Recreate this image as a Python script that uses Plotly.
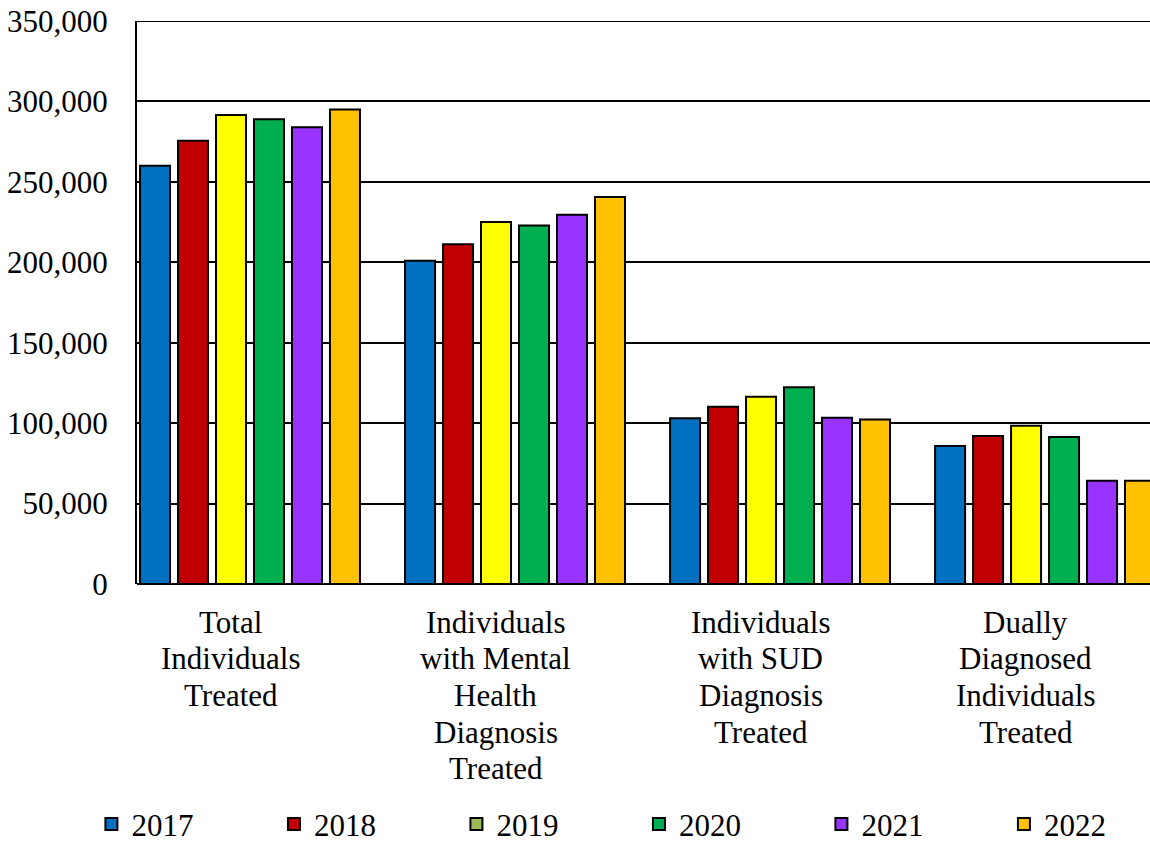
import plotly.graph_objects as go

# Categories shown along the x axis (one entry per text line)
categories = [
    ["Total", "Individuals", "Treated"],
    ["Individuals", "with Mental", "Health", "Diagnosis", "Treated"],
    ["Individuals", "with SUD", "Diagnosis", "Treated"],
    ["Dually", "Diagnosed", "Individuals", "Treated"],
]

years = ["2017", "2018", "2019", "2020", "2021", "2022"]

# Individuals treated per category, one list per year
v2017 = [260000, 201000, 103000, 85800]
v2018 = [275500, 211200, 110200, 92000]
v2019 = [291600, 225000, 116400, 98400]
v2020 = [288900, 222800, 122300, 91400]
v2021 = [283900, 229600, 103400, 64200]
v2022 = [295000, 240600, 102200, 64200]
series = [v2017, v2018, v2019, v2020, v2021, v2022]

bar_colors = ["#0070C0", "#C00000", "#FFFF00", "#00B050", "#9933FF", "#FFC000"]
legend_colors = ["#0070C0", "#C00000", "#9BBB59", "#00B050", "#9933FF", "#FFC000"]

y_ticks = [0, 50000, 100000, 150000, 200000, 250000, 300000, 350000]
y_tick_text = ["0", "50,000", "100,000", "150,000", "200,000", "250,000", "300,000", "350,000"]

FONT = "Liberation Serif"
SIZE = 31
x_pos = list(range(len(categories)))

fig = go.Figure()

for name, vals, col in zip(years, series, bar_colors):
    fig.add_trace(go.Bar(
        x=x_pos, y=vals, name=name,
        marker=dict(color=col, line=dict(color="black", width=2)),
        showlegend=False,
    ))

# Legend entries on a hidden overlay axis pair
for name, col in zip(years, legend_colors):
    fig.add_trace(go.Bar(
        x=[None], y=[None], name=name, xaxis="x2", yaxis="y2",
        marker=dict(color=col, line=dict(color="black", width=2)),
        showlegend=True,
    ))

# Category labels, one annotation per line, slightly left of each cluster centre
label_offset = -0.072
for pos, lines in zip(x_pos, categories):
    for k, line in enumerate(lines):
        fig.add_annotation(
            x=pos + label_offset, xref="x", y=0, yref="paper",
            yshift=-(38 + 36.7 * k), yanchor="middle", xanchor="center",
            text=line, showarrow=False,
            font=dict(family=FONT, size=SIZE, color="black"),
        )

# Top border line at the axis maximum
fig.add_shape(type="line", xref="paper", x0=0, x1=1, yref="y", y0=350000, y1=350000,
              line=dict(color="black", width=2))

fig.update_layout(
    width=1150, height=844,
    margin=dict(l=137, r=0, t=21, b=260, autoexpand=False),
    paper_bgcolor="white", plot_bgcolor="white",
    font=dict(family=FONT, color="black", size=SIZE),
    barmode="group", bargap=0.14, bargroupgap=0.21,
    showlegend=True,
    legend=dict(
        orientation="h", x=-0.045, xanchor="left", y=-0.427, yanchor="middle",
        entrywidth=137.5, entrywidthmode="pixels", itemwidth=30,
        font=dict(family=FONT, size=SIZE, color="black"),
        bgcolor="rgba(0,0,0,0)", tracegroupgap=0,
    ),
    xaxis=dict(
        type="linear", range=[-0.4264, 3.396], showgrid=False, zeroline=False,
        showline=False, ticks="", showticklabels=False,
    ),
    yaxis=dict(
        range=[0, 350000], tickmode="array", tickvals=y_ticks, ticktext=y_tick_text,
        showgrid=True, gridcolor="black", gridwidth=2,
        zeroline=True, zerolinecolor="black", zerolinewidth=2,
        showline=True, linecolor="black", linewidth=2,
        ticks="", tickfont=dict(family=FONT, size=SIZE),
        ticklabelstandoff=21,
    ),
    xaxis2=dict(overlaying="x", visible=False, range=[0, 1]),
    yaxis2=dict(overlaying="y", visible=False, range=[0, 1]),
)

fig.write_html("out.html")
